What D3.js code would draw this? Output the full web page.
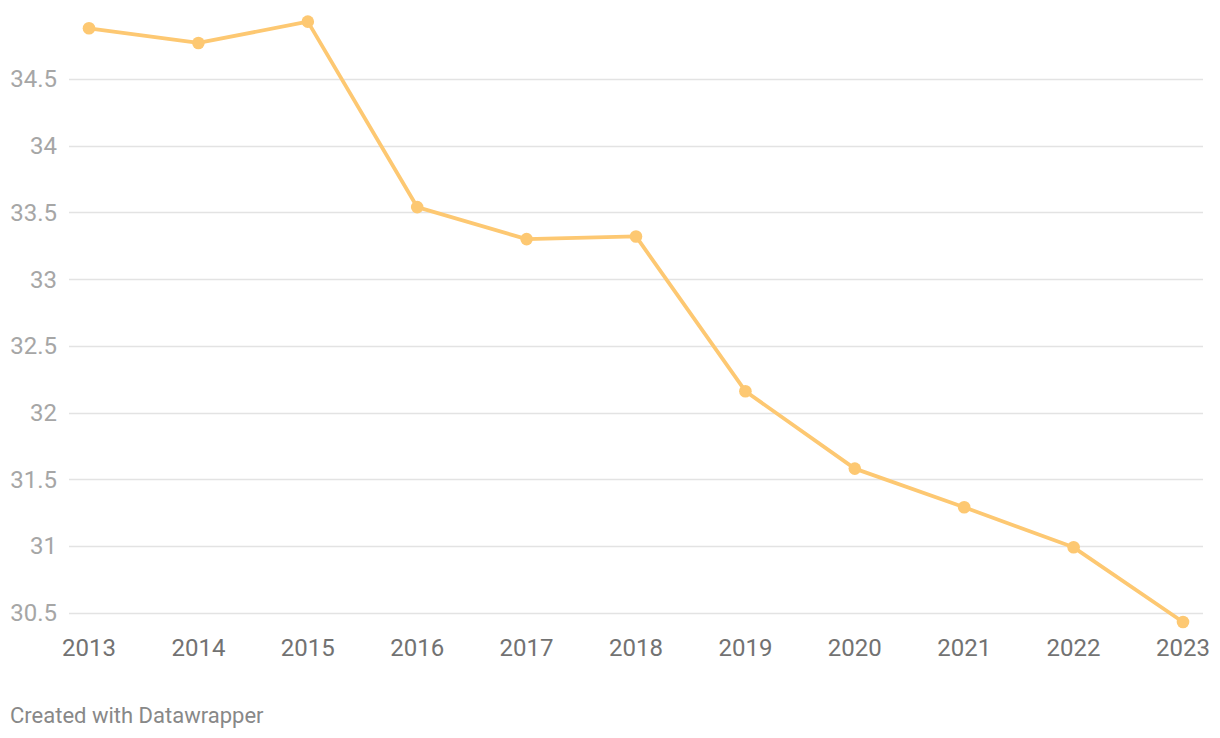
<!DOCTYPE html>
<html><head><meta charset="utf-8">
<script src="https://cdn.jsdelivr.net/npm/d3@7"></script>
<style>body{margin:0;background:#fff;} svg{display:block;font-family:Roboto,sans-serif;}</style>
</head><body><svg id="c" width="1220" height="738"></svg>
<script>
const years = ["2013","2014","2015","2016","2017","2018","2019","2020","2021","2022","2023"];
const values = [34.88,34.77,34.93,33.54,33.30,33.32,32.16,31.58,31.29,30.99,30.43];
const yTicks = [30.5,31,31.5,32,32.5,33,33.5,34,34.5];
const yTickLabels = ["30.5","31","31.5","32","32.5","33","33.5","34","34.5"];

const svg = d3.select("#c");
const x = d3.scalePoint().domain(years).range([89,1183]);
const y = d3.scaleLinear().domain([30.5,34.5]).range([612.7,79]);

const gy = svg.append("g");
gy.selectAll("line").data(yTicks).join("line")
  .attr("x1",69).attr("x2",1203)
  .attr("y1",d=>Math.round(y(d))+0.5).attr("y2",d=>Math.round(y(d))+0.5)
  .attr("stroke","#e3e3e3").attr("stroke-width",1.3);
gy.selectAll("text").data(yTicks).join("text")
  .attr("x",57).attr("y",d=>y(d)).attr("dy","0.35em")
  .attr("text-anchor","end").attr("font-size",24).attr("fill","#a6a6a6")
  .text((d,i)=>yTickLabels[i]);

svg.append("g").selectAll("text").data(years).join("text")
  .attr("x",d=>x(d)).attr("y",648).attr("dy","0.35em")
  .attr("text-anchor","middle").attr("font-size",24).attr("fill","#727272")
  .text(d=>d);

const data = years.map((yr,i)=>({yr,v:values[i]}));
svg.append("path").datum(data)
  .attr("d",d3.line().x(d=>x(d.yr)).y(d=>y(d.v)))
  .attr("fill","none").attr("stroke","#fdc872").attr("stroke-width",3.8)
  .attr("stroke-linejoin","round");
svg.append("g").selectAll("circle").data(data).join("circle")
  .attr("cx",d=>x(d.yr)).attr("cy",d=>y(d.v)).attr("r",6.3).attr("fill","#fdc872");

svg.append("text").attr("x",10).attr("y",715).attr("dy","0.35em")
  .attr("font-size",22).attr("fill","#888").text("Created with Datawrapper");
</script></body></html>
